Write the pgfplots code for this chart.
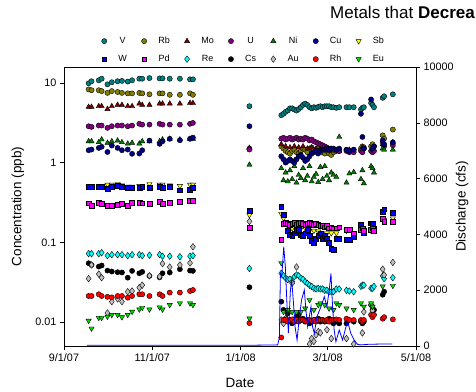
\documentclass[border=0pt]{standalone}
\usepackage{pgfplots}
\pgfplotsset{compat=1.18}
\usepackage{pgfplotstable}
\usepackage{fontspec}
\setmainfont{Liberation Sans}
\setsansfont{Liberation Sans}

\definecolor{cV}{RGB}{0,128,128}
\definecolor{cRb}{RGB}{128,128,0}
\definecolor{cMo}{RGB}{128,0,0}
\definecolor{cU}{RGB}{128,0,128}
\definecolor{cNi}{RGB}{0,128,0}
\definecolor{cCu}{RGB}{0,0,128}
\definecolor{cSb}{RGB}{255,255,0}
\definecolor{cW}{RGB}{0,0,255}
\definecolor{cPd}{RGB}{255,0,255}
\definecolor{cRe}{RGB}{0,255,255}
\definecolor{cCs}{RGB}{0,0,0}
\definecolor{cAu}{RGB}{192,192,192}
\definecolor{cRh}{RGB}{255,0,0}
\definecolor{cEu}{RGB}{0,220,0}

% day = days since 9/1/07
\pgfplotstableread{
day V Rb Mo U Ni Cu Sb W Pd Re Cs Au Rh Eu
17 9.9 8.3 5.0 2.86 1.85 1.43 0.5 0.495 0.31 0.072 0.0547 0.035 0.0212 0.0104
19 10.5 8.1 5.0 2.81 1.85 1.46 0.5 0.495 0.29 0.072 0.052 0.052 0.0212 0.0083
24 10.8 8.1 5.1 2.92 1.80 1.53 0.5 0.50 0.316 0.072 0.0496 0.040 0.0223 0.0113
26 11.3 7.9 5.1 2.92 1.95 1.58 0.5 0.50 0.305 0.074 0.0512 0.036 0.0212 0.0113
30 9.6 7.5 4.7 2.73 1.77 1.36 0.53 0.47 0.29 0.068 0.0442 0.013 0.0207 0.0117
33 10.2 7.9 5.1 2.86 1.85 1.64 0.53 0.50 0.29 0.070 0.043 0.018 0.0204 0.0123
37 10.5 7.7 5.3 2.92 1.89 1.53 0.54 0.51 0.296 0.070 0.0422 0.0195 0.0212 0.0123
40 10.6 7.5 5.3 2.92 1.80 1.43 0.52 0.495 0.305 0.070 0.0418 0.018 0.0212 0.0115
44 10.4 7.4 5.1 2.86 1.73 1.46 0.5 0.48 0.29 0.068 0.036 0.024 0.0202 0.0123
47 10.8 7.4 5.1 2.92 1.77 1.29 0.5 0.48 0.316 0.070 0.0438 0.0245 0.0212 0.0135
52 11.3 7.5 5.5 3.07 1.73 1.30 0.51 0.48 0.316 0.070 0.0409 0.027 0.0223 0.0144
54 11.3 7.4 5.3 3.0 1.85 1.43 0.5 0.495 0.31 0.068 0.0426 0.029 0.0223 0.0151
59 11.5 7.2 5.3 3.0 1.85 1.89 0.54 0.48 0.305 0.069 0.0379 0.038 0.0212 0.0144
66 11.4 7.4 5.5 3.07 1.85 1.72 0.53 0.495 0.32 0.070 0.0364 0.037 0.0223 0.0153
68 11.4 7.4 5.5 3.0 1.95 1.85 0.53 0.48 0.305 0.067 0.0409 0.054 0.0212 0.0144
73 11.3 7.1 5.5 3.0 1.99 1.99 0.52 0.495 0.316 0.067 0.0418 0.049 0.0234 0.0164
80 11.3 7.1 5.5 3.0 1.95 1.91 0.51 0.45 0.326 0.066 0.046 0.052 0.0234 0.0172
87 11.1 7.4 5.6 3.07 1.99 1.99 0.53 0.46 0.335 0.067 0.0442 0.055 0.0245 0.0172
89 11.1 7.1 5.6 3.15 1.99 2.06 0.53 0.48 0.335 0.068 0.0438 0.088 0.0252 0.0164
128 5.1 1.5 1.53 1.46 0.94 2.86 0.22 0.25 0.154 0.047 0.0273 0.183 0.0097 0.0111
150 3.94 1.6 1.7 2.0 0.85 1.2 0.228 0.28 0.107 0.041 0.018 0.0106 0.0064 0.055
151.5 4.1 1.5 nan 2.05 0.6 1.1 0.2 0.22 0.17 0.038 0.0142 0.0096 0.0106 0.0134
153 4.34 1.4 1.6 1.95 0.75 1.0 nan 0.175 0.175 0.0355 0.011 0.011 0.0106 nan
154.5 4.5 1.35 nan 2.0 0.58 1.05 0.16 0.14 0.17 0.034 0.0128 nan 0.0101 0.0142
156 4.8 1.3 1.55 2.05 0.8 1.1 nan 0.125 0.165 0.0345 0.0106 nan 0.0106 nan
157.5 4.8 1.4 nan 1.95 0.62 1.05 0.15 0.12 0.17 0.032 0.0096 0.0306 0.0108 0.0134
159 4.64 1.45 1.6 2.0 0.9 1.0 nan 0.13 0.175 0.037 0.0101 nan 0.0101 nan
160.5 4.5 1.35 nan 2.05 0.56 1.1 0.15 0.14 0.165 0.039 0.0117 0.049 0.0106 0.0134
162 4.7 1.3 1.55 1.95 0.7 1.2 nan 0.145 0.17 0.038 0.0123 nan 0.0101 nan
163.5 4.96 1.4 nan 2.0 0.64 1.25 0.15 0.125 0.175 0.0355 0.0106 nan 0.0106 0.0134
165 5.3 1.5 1.6 1.95 0.85 1.15 nan 0.12 0.17 0.0345 0.011 nan 0.0106 nan
166.5 5.5 1.45 nan 2.05 0.6 1.05 0.15 0.13 0.165 0.032 0.0101 nan 0.0103 0.0148
168 5.3 1.35 1.5 2.0 0.68 1.1 nan 0.145 0.17 0.0306 0.0106 nan 0.0101 nan
169.5 4.96 1.5 nan 1.9 0.9 1.2 0.14 0.12 0.175 0.029 0.0096 0.0053 0.0106 0.0189
171 4.8 1.55 1.55 1.95 0.58 1.3 nan 0.105 0.17 0.028 0.0101 0.0062 0.0104 nan
172.5 4.96 1.45 nan 1.85 0.66 1.35 0.14 0.1 0.165 0.0265 0.0106 0.0057 0.0106 0.0142
174 4.87 1.4 1.5 1.8 0.72 1.4 nan 0.11 0.17 0.026 0.0106 0.0069 0.0101 nan
175.5 5.0 1.5 nan 1.75 0.57 1.3 0.137 0.12 0.165 0.0265 0.011 0.0076 0.0106 0.0164
177 5.1 1.45 1.45 1.7 0.88 1.4 0.13 0.13 0.16 0.026 0.0101 0.0073 0.0106 0.0172
178.5 4.96 1.35 nan 1.65 0.62 1.45 0.124 0.11 0.16 0.026 0.0106 nan 0.0106 nan
180 5.1 1.3 1.45 1.6 0.9 1.45 nan 0.12 0.155 0.025 0.0101 nan 0.0104 0.0164
181.5 5.1 1.4 nan 1.55 0.68 1.5 0.13 0.11 0.16 0.025 0.0106 0.008 0.0106 nan
183 5.1 1.3 1.4 1.5 0.6 1.45 nan 0.1 0.15 0.024 0.011 nan 0.0101 0.0148
184.5 4.96 1.25 nan 1.5 0.75 1.5 0.13 0.084 0.155 0.024 0.0101 0.0062 0.0106 nan
186 4.96 1.35 1.45 1.45 0.7 1.5 nan 0.08 0.15 0.024 0.0096 nan 0.0106 0.0142
188 4.87 1.4 nan 1.45 0.66 1.45 0.13 0.11 0.15 0.026 0.0101 nan 0.0108 0.0172
190 4.96 1.4 1.4 1.4 2.1 1.5 nan 0.11 0.155 0.026 0.0096 nan 0.0106 0.0164
195 4.96 1.45 nan 1.4 0.56 1.45 0.14 0.109 0.145 0.025 0.0096 0.0062 0.011 0.0148
197 4.96 1.4 1.45 1.35 0.73 1.4 nan 0.107 0.145 0.0245 nan nan 0.0106 nan
200 4.96 1.45 nan 1.35 0.76 1.45 0.13 0.118 0.13 0.024 0.0101 0.0053 0.0106 0.0142
205 4.64 1.5 nan 1.4 0.62 4.1 0.15 0.166 0.145 0.028 0.0101 nan 0.0106 0.0172
206 4.87 1.6 1.55 1.35 0.8 2.1 nan 0.15 0.15 0.029 0.0096 0.0073 0.0101 nan
207 4.96 1.55 nan 1.5 0.55 1.5 0.14 0.13 0.14 0.029 0.0101 0.0134 0.0106 0.0156
212 5.6 1.6 nan 1.4 0.9 6.2 0.14 0.174 0.145 0.0265 0.0164 0.0164 0.0123 0.0172
213 5.3 1.7 1.45 1.35 0.85 1.5 nan 0.17 0.15 0.0265 0.0142 0.014 0.0115 0.0156
214 4.96 1.6 nan 1.4 0.75 1.6 0.15 0.15 0.14 0.028 0.0142 nan 0.0123 nan
220 6.5 2.2 1.7 1.8 1.5 1.9 0.2 0.244 0.2 0.038 0.022 0.046 0.011 0.028
221 6.8 2.0 nan 1.6 1.45 1.7 0.19 0.26 0.183 0.035 0.024 0.039 0.0115 nan
227 7.2 2.6 1.8 1.65 1.45 1.8 0.2 0.233 0.183 0.036 nan 0.056 0.0108 0.0285
}\metals

\pgfplotstableread{
day Q
16 30
40 25
70 30
100 30
125 25
147.5 40
148.7 300
149.4 2600
150.3 2480
151 3000
151.7 3560
152.8 2840
154 1410
154.9 460
156.3 2000
157.2 2370
158.6 1410
159.5 690
160.9 215
162.5 1050
164 1650
165.9 2010
167 1290
168.2 690
170.5 1410
171.6 690
172.8 455
174.6 1050
177.4 1410
179.7 1770
181.5 1410
183.1 2010
184.3 2600
185.4 1410
186.5 573
187.7 154
190 573
192.3 215
195.7 900
198 455
200.3 215
202.6 60
204.9 40
210 60
218 70
226.7 70
}\discharge

\begin{document}
\begin{tikzpicture}
\path (-64pt,-44pt) rectangle (412pt,346pt);
\begin{axis}[
  at={(0pt,0pt)}, anchor=south west,
  width=352pt, height=279pt, scale only axis,
  xmin=0, xmax=243,
  ymode=log, ymin=0.005, ymax=15.85,
  xtick={0,61,122,182,243},
  xticklabels={9/1/07,11/1/07,1/1/08,3/1/08,5/1/08},
  minor x tick num=5,
  ytick={0.01,0.1,1,10}, yticklabels={0.01,0.1,1,10},
  yminorticks=false,
  ytick pos=left, xtick pos=bottom,
  tick align=outside,
  major tick length=4pt, minor tick length=2.5pt,
  tick style={black, line width=0.6pt},
  axis line style={line width=0.8pt},
  tick label style={font=\fontsize{10.8}{13}\selectfont},
  xlabel={Date}, ylabel={Concentration (ppb)},
  label style={font=\fontsize{13.5}{16}\selectfont},
  xlabel style={at={(axis description cs:0.5,-0.1326)}, anchor=center},
  ylabel style={at={(axis description cs:-0.1307,0.5)}, anchor=center},
  legend columns=7,
  legend style={draw=none, fill=none, inner sep=0pt,
    at={(axis description cs:0.507,1.115)}, anchor=north,
    font=\fontsize{9}{11}\selectfont,
    /tikz/every even column/.append style={column sep=10pt},
    row sep=6pt},
  legend image code/.code={\path (0pt,0pt) (17pt,0pt); \draw[#1] plot coordinates {(5pt,0pt)};},
  every axis plot/.append style={only marks, mark options={draw=black, line width=0.4pt}},
]
\addplot[mark=*, mark size=2.6pt, mark options={fill=cV}] table[x=day,y=V]{\metals};
\addlegendentry{V}
\addplot[mark=*, mark size=2.6pt, mark options={fill=cRb}] table[x=day,y=Rb]{\metals};
\addlegendentry{Rb}
\addplot[mark=triangle*, mark size=3pt, mark options={fill=cMo}] table[x=day,y=Mo]{\metals};
\addlegendentry{Mo}
\addplot[mark=*, mark size=2.6pt, mark options={fill=cU}] table[x=day,y=U]{\metals};
\addlegendentry{U}
\addplot[mark=triangle*, mark size=3pt, mark options={fill=cNi}] table[x=day,y=Ni]{\metals};
\addlegendentry{Ni}
\addplot[mark=*, mark size=2.6pt, mark options={fill=cCu}] table[x=day,y=Cu]{\metals};
\addlegendentry{Cu}
\addplot[mark=triangle*, mark size=3pt, mark options={fill=cSb, rotate=180}] table[x=day,y=Sb]{\metals};
\addlegendentry{Sb}
\addplot[mark=square*, mark size=2.4pt, mark options={fill=cW}] table[x=day,y=W]{\metals};
\addlegendentry{W}
\addplot[mark=square*, mark size=2.4pt, mark options={fill=cPd}] table[x=day,y=Pd]{\metals};
\addlegendentry{Pd}
\addplot[mark=diamond*, mark size=3.3pt, mark options={fill=cRe}] table[x=day,y=Re]{\metals};
\addlegendentry{Re}
\addplot[mark=*, mark size=2.6pt, mark options={fill=cCs}] table[x=day,y=Cs]{\metals};
\addlegendentry{Cs}
\addplot[mark=diamond*, mark size=3.3pt, mark options={fill=cAu}] table[x=day,y=Au]{\metals};
\addlegendentry{Au}
\addplot[mark=*, mark size=2.6pt, mark options={fill=cRh}] table[x=day,y=Rh]{\metals};
\addlegendentry{Rh}
\addplot[mark=triangle*, mark size=3pt, mark options={fill=cEu, rotate=180}] table[x=day,y=Eu]{\metals};
\addlegendentry{Eu}
\end{axis}
\begin{axis}[
  at={(0pt,0pt)}, anchor=south west,
  width=352pt, height=279pt, scale only axis,
  xmin=0, xmax=243, ymin=0, ymax=10000,
  axis x line=none, axis y line*=right,
  scaled y ticks=false,
  ytick={0,2000,4000,6000,8000,10000},
  yticklabels={0,2000,4000,6000,8000,10000},
  tick align=outside, major tick length=4pt,
  tick style={black, line width=0.6pt},
  axis line style={line width=0.8pt},
  tick label style={font=\fontsize{10.8}{13}\selectfont},
  ylabel={Discharge (cfs)},
  label style={font=\fontsize{13.5}{16}\selectfont},
  ylabel style={at={(axis description cs:1.131,0.5)}, anchor=center},
]
\addplot[blue, line width=0.8pt, no markers] table[x=day,y=Q]{\discharge};
\end{axis}
\node[anchor=base west, inner sep=0pt, font=\fontsize{17}{20}\selectfont] at (266pt,327.2pt) {Metals that \textbf{Decrea}};
\end{tikzpicture}
\end{document}
